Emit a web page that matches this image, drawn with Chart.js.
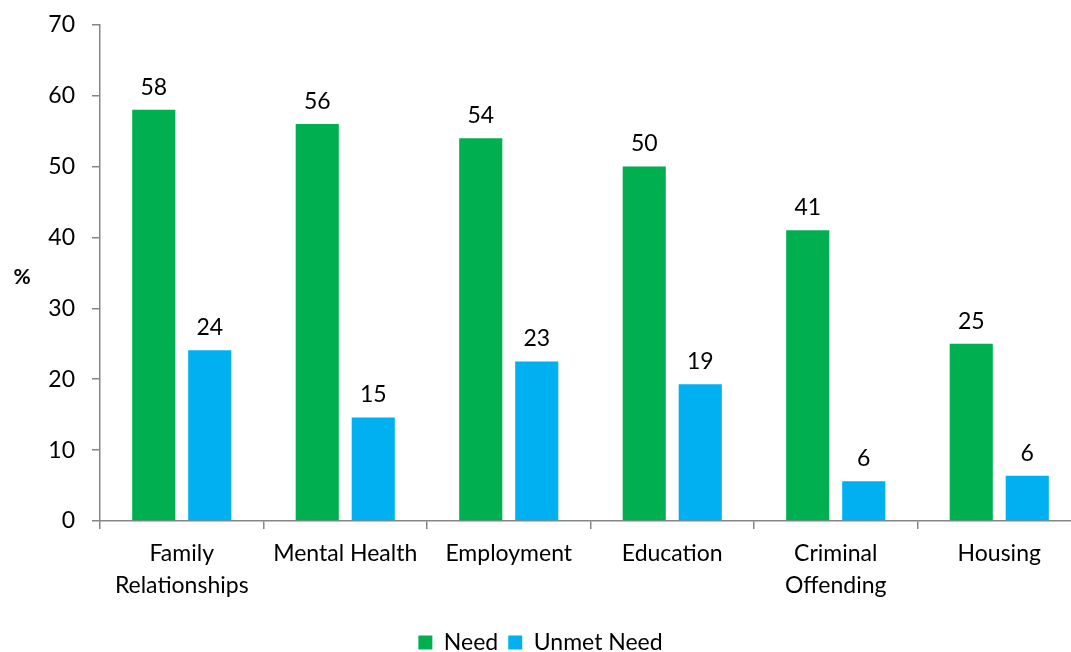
<!DOCTYPE html>
<html>
<head>
<meta charset="utf-8">
<script src="https://cdn.jsdelivr.net/npm/chart.js@4.4.1/dist/chart.umd.min.js"></script>
<style>
  html, body { margin: 0; padding: 0; background: #ffffff; overflow: hidden; }
  #wrap { width: 1081px; height: 670px; margin-top: -6px; position: relative; }
</style>
</head>
<body>
<div id="wrap"><canvas id="chart"></canvas></div>
<script>
// Areas of need, with the share (%) reporting a need and an unmet need
const categories = [["Family", "Relationships"], "Mental Health", "Employment", "Education", ["Criminal", "Offending"], "Housing"];
const needValues = [58, 56, 54, 50, 41, 25];
const unmetNeedValues = [24.1, 14.6, 22.5, 19.3, 5.6, 6.4];
const yTicks = [0, 10, 20, 30, 40, 50, 60, 70];

const FONT = "Lato, 'Open Sans', sans-serif";
const AXIS_GREY = "#868686";

// Value labels above each bar
const barValueLabels = {
  id: "barValueLabels",
  afterDatasetsDraw(chart) {
    const ctx = chart.ctx;
    ctx.save();
    ctx.font = "23px " + FONT;
    ctx.fillStyle = "#000000";
    ctx.textAlign = "center";
    ctx.textBaseline = "bottom";
    chart.data.datasets.forEach((ds, i) => {
      chart.getDatasetMeta(i).data.forEach((bar, j) => {
        ctx.fillText(String(Math.round(ds.data[j])), bar.x, bar.y - 11);
      });
    });
    ctx.restore();
  }
};

// Horizontal "%" axis title to the left of the value axis
const percentTitle = {
  id: "percentTitle",
  afterDraw(chart) {
    const ctx = chart.ctx;
    const y = chart.scales.y;
    ctx.save();
    ctx.font = "bold 21px " + FONT;
    ctx.fillStyle = "#000000";
    ctx.textAlign = "center";
    ctx.textBaseline = "middle";
    ctx.fillText("%", 22, (y.top + y.bottom) / 2 + 4);
    ctx.restore();
  }
};

new Chart(document.getElementById("chart"), {
  type: "bar",
  data: {
    labels: categories,
    datasets: [
      { label: "Need", data: needValues, backgroundColor: "#00B050" },
      { label: "Unmet Need", data: unmetNeedValues, backgroundColor: "#00B0F0" }
    ]
  },
  options: {
    responsive: true,
    maintainAspectRatio: false,
    animation: false,
    layout: { padding: { top: 11, right: 0, left: 0, bottom: 0 } },
    datasets: { bar: { categoryPercentage: 0.685, barPercentage: 0.77 } },
    scales: {
      x: {
        grid: { drawOnChartArea: false, drawTicks: true, tickLength: 8, color: AXIS_GREY, lineWidth: 1.5 },
        border: { color: AXIS_GREY, width: 1.5 },
        ticks: { color: "#000000", font: { family: FONT, size: 23, lineHeight: 1.4 }, padding: 8, maxRotation: 0, autoSkip: false },
        afterFit(scale) { scale.height = 100; }
      },
      y: {
        min: 0,
        max: 70,
        afterBuildTicks(scale) { scale.ticks = yTicks.map(v => ({ value: v })); },
        grid: { drawOnChartArea: false, drawTicks: true, tickLength: 8, color: AXIS_GREY, lineWidth: 1.5 },
        border: { color: AXIS_GREY, width: 1.5 },
        ticks: { color: "#000000", font: { family: FONT, size: 23 }, padding: 17 },
        afterFit(scale) { scale.width = 100; }
      }
    },
    plugins: {
      legend: {
        position: "bottom",
        labels: { color: "#000000", font: { family: FONT, size: 23 }, boxWidth: 14, boxHeight: 14, padding: 10 }
      },
      tooltip: { enabled: false }
    }
  },
  plugins: [barValueLabels, percentTitle]
});
</script>
</body>
</html>
